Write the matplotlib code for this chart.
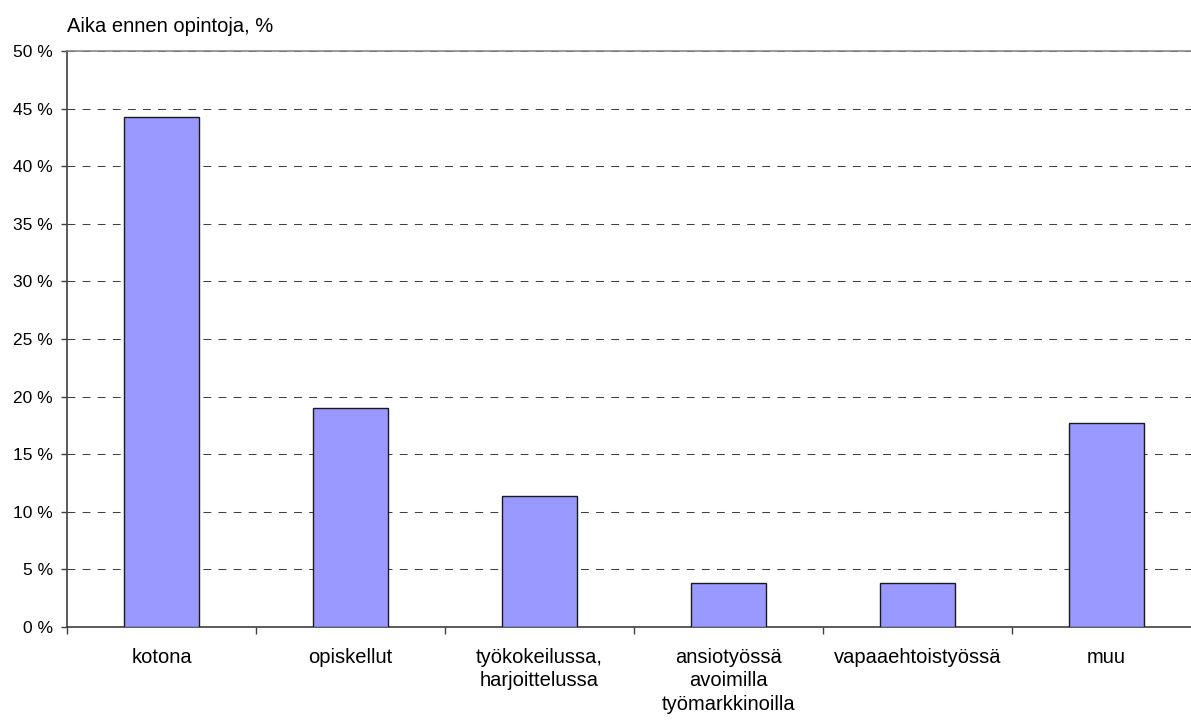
import numpy as np
import matplotlib.pyplot as plt
from matplotlib.ticker import FixedLocator, FuncFormatter

plt.rcParams['font.family'] = ['Liberation Sans', 'DejaVu Sans']

kategoriat = ['kotona', 'opiskellut', 'työkokeilussa,\nharjoittelussa',
              'ansiotyössä\navoimilla\ntyömarkkinoilla', 'vapaaehtoistyössä', 'muu']
osuudet = [44.3, 19.0, 11.4, 3.8, 3.8, 17.7]
y_ticks = [0, 5, 10, 15, 20, 25, 30, 35, 40, 45, 50]

fig = plt.figure(figsize=(11.91, 7.2), dpi=100)
ax = fig.add_axes([67/1191, 93/720, 1134/1191, 576/720])

x = np.arange(len(kategoriat))
ax.bar(x, osuudet, width=0.40, color='#9999FF', edgecolor='#1a1a1a', linewidth=1.0, zorder=3)

ax.set_xlim(-0.5, len(kategoriat) - 0.5)
ax.set_ylim(0, 50)

ax.set_yticks(y_ticks)
ax.yaxis.set_major_formatter(FuncFormatter(lambda v, p: '%d %%' % v))
ax.tick_params(axis='y', length=4, width=1, color='#404040', pad=6, labelsize=12.5, direction='out')

# category labels at bar centres, tick marks on category boundaries
ax.set_xticks(x)
ax.set_xticklabels(kategoriat, fontsize=14.5, linespacing=1.3, va='top')
ax.tick_params(axis='x', which='major', length=0, pad=15)
ax.xaxis.set_minor_locator(FixedLocator(np.arange(len(kategoriat) + 1) - 0.5))
ax.tick_params(axis='x', which='minor', length=5, width=1, color='#404040', direction='out')

ax.yaxis.grid(True, linestyle=(0, (7.5, 7)), color='#404040', linewidth=0.75, zorder=0)
ax.set_axisbelow(True)

for side in ['left', 'bottom']:
    ax.spines[side].set_color('#404040')
    ax.spines[side].set_linewidth(1.2)
ax.spines['top'].set_color('#888888')
ax.spines['top'].set_linewidth(1.2)
ax.spines['right'].set_visible(False)

fig.text(67/1191, 1 - 32/720, 'Aika ennen opintoja, %', fontsize=14.5, va='baseline', ha='left')

fig.savefig('out.png', dpi=100)
